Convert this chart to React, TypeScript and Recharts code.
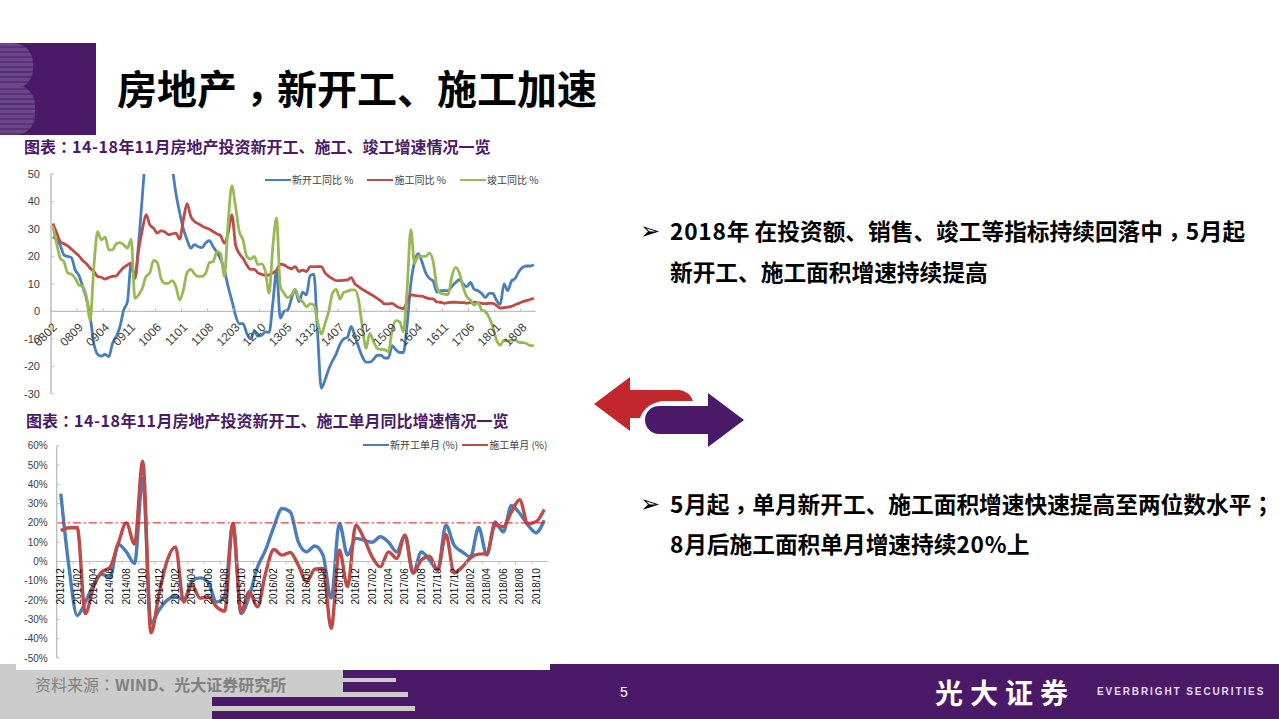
import { LineChart, Line, XAxis, YAxis, ReferenceLine, Legend } from 'recharts';

// 月度累计同比 (2008/02 - 2018/11)
const months = [
  '0802','0803','0804','0805','0806','0807','0808','0809','0810','0811','0812',
  '0901','0902','0903','0904','0905','0906','0907','0908','0909','0910','0911','0912',
  '1001','1002','1003','1004','1005','1006','1007','1008','1009','1010','1011','1012',
  '1101','1102','1103','1104','1105','1106','1107','1108','1109','1110','1111','1112',
  '1201','1202','1203','1204','1205','1206','1207','1208','1209','1210','1211','1212',
  '1301','1302','1303','1304','1305','1306','1307','1308','1309','1310','1311','1312',
  '1401','1402','1403','1404','1405','1406','1407','1408','1409','1410','1411','1412',
  '1501','1502','1503','1504','1505','1506','1507','1508','1509','1510','1511','1512',
  '1601','1602','1603','1604','1605','1606','1607','1608','1609','1610','1611','1612',
  '1701','1702','1703','1704','1705','1706','1707','1708','1709','1710','1711','1712',
  '1801','1802','1803','1804','1805','1806','1807','1808','1809','1810','1811',
];
const newStart = [
  27.2,26,24,20.5,20,19.5,15,13,9,4.7,-2,-11.7,-15.6,-16.3,-15.7,-16.5,-11.7,-9.2,-5.6,0.5,3.5,17.5,12,
  24.8,42,60,75,85,90,85,75,65,53,43,36,30,26,23,24.3,23.5,23.2,25,25.7,23.5,21.5,19,15,9,4,-1.5,-4.5,-4.5,-8,-10,-7.5,-9,-8.7,-7.5,-7.7,3,14.5,
  -2.5,0,0.5,4.7,8,3.5,7,6,13,13.5,-8,-28,-25,-21,-18,-15.5,-12,-10,-9.5,-5.5,-9,-13,-16.5,-18.5,-18.5,-17.5,-16,-16,-17,-17,-12.5,-14,-15,-15,-5,10,18,21,18,14,12,11,7,7.5,7.5,7.5,9,10.5,11.5,10,9,10.5,8,7.5,6.5,5,6.5,6.5,4,2.5,10,7.5,11,12,14.5,16,16.5,16.5,17,
];
const underCon = [
  32,28.7,25.4,24.6,23.8,22.6,21.4,20.2,18.5,17.3,15.7,14.5,12.7,12.4,11.7,12.3,12.7,12.9,14.5,16,16.9,17.5,12,
  22.4,29.7,35.2,31.5,30.3,28.5,29.3,29,27.9,28.2,28.5,26.3,33.3,39.2,34.5,32.7,31.9,31.1,30.4,29.9,29,28.2,27.5,24.8,28.5,35.2,24.2,21,19.3,16.9,15.3,15.3,14,13.5,13.1,13.3,13.9,15,
  17.2,16.9,16,15.5,16.3,14.5,15,14.5,16.3,16.2,16.3,16.3,14,12.7,11.9,11.2,11.2,11.3,11.4,12.3,10,9,8,7.2,6.4,5.6,4.7,3.8,2.7,2.7,2.9,2,1.3,1,3.5,6,5.8,5.6,5.5,5,4.6,4.5,3.4,3.3,2.9,3.2,3.3,3.3,3.2,3.2,3,3.2,3.3,3.2,2.9,2.8,2.9,2.9,2.1,1.2,1.3,1.5,1.8,2.4,2.9,3.5,3.9,4.3,4.7,
];
const finished = [
  31,24.8,19.3,18,13.9,13.5,12,9.6,9,5.4,-3.2,16.3,29,26,27,22.4,22.4,24.6,25,24.2,23,26.3,4.7,
  6,8.4,12.7,14,18.5,17.8,12,10.2,10.2,11.2,9,4.1,7.8,14.1,15.3,13.6,12.7,12.7,13.9,17.8,18.1,21.8,21,12.7,32,45.7,38.2,29,26,20,19,20,17,17.3,14.5,6.6,23.6,34,
  9,6.6,5,6,8,4.7,3.5,1.7,2.7,2.3,-3.8,-8.3,-4.4,0,6.6,8,4.5,6.9,7.3,7.8,7.8,4.1,-5.6,-13.5,-8,-11,-13.5,-13.9,-14,-14.7,-6.8,-3.4,-3.8,-7.4,7.8,29.7,17.5,20.2,20,20,21.2,18.1,9,6.6,6.3,6,12.7,16,14,9,5.4,4.1,2.3,3.2,0.5,-0.1,-2.2,-5.6,-10.5,-12.3,-10.5,-10.8,-10.5,-10.5,-11.3,-11.4,-11.7,-12.5,-12.4,
];
const yearTicks = [-30, -20, -10, 0, 10, 20, 30, 40, 50];

// 单月同比 (2013/12 - 2018/11)
const singleMonths = [
  '2013/12','2014/01','2014/02','2014/03','2014/04','2014/05','2014/06','2014/07','2014/08','2014/09','2014/10','2014/11','2014/12',
  '2015/01','2015/02','2015/03','2015/04','2015/05','2015/06','2015/07','2015/08','2015/09','2015/10','2015/11','2015/12',
  '2016/01','2016/02','2016/03','2016/04','2016/05','2016/06','2016/07','2016/08','2016/09','2016/10','2016/11','2016/12',
  '2017/01','2017/02','2017/03','2017/04','2017/05','2017/06','2017/07','2017/08','2017/09','2017/10','2017/11','2017/12',
  '2018/01','2018/02','2018/03','2018/04','2018/05','2018/06','2018/07','2018/08','2018/09','2018/10','2018/11',
];
const newStartSingle = [
  35.2,-3,-28,-21,-12,-6.5,-8.5,9,5,-1,43,-32,-25,-20,-18,-20,-10,-8.5,-11,-21,-18,19.7,-27,-18,-3,6,18,
  27.5,25.7,10,5,8,3.3,-19,19.7,3.3,12,11,10,12.8,10,5,13.6,-6,5,0.7,-4.5,18.8,8.5,5,2.4,17.6,3.3,20.5,15.4,29,25,19,14.9,21.4,
];
const underConSingle = [
  16,17.5,17.6,-27,-13,-5.4,-3,9.3,20,9,52,-37,-16.6,0.7,7.6,-21,-12.3,-19,-18.3,-23.5,-25.7,19.7,-26,-15.7,-23.5,-6,6.2,
  3.3,4.7,-2,-10.5,-4,-3.6,-34.7,5.9,-13,18.8,12,2.4,-2.8,5,1.6,13.6,-6,0.7,2.8,-4.5,14,-6,-2.8,1.9,3.8,4.1,18.8,18,25.7,32,19.7,20.6,27,
];
const monthTicks = [-50, -40, -30, -20, -10, 0, 10, 20, 30, 40, 50, 60];

const yearData = months.map((m, i) => ({ m, a: newStart[i], b: underCon[i], c: finished[i] }));
const monthData = singleMonths.map((m, i) => ({ m, a: newStartSingle[i], b: underConSingle[i] }));

const PURPLE = '#4a1a68';
const CJK = '"Noto Sans CJK SC", sans-serif';
const CJK_TC = '"Noto Sans CJK TC", sans-serif';
const LATIN = '"Liberation Sans", sans-serif';

const legendBox = (w: number, gap: number) => (props: any) => (
  <div style={{ display: 'flex', width: w, fontFamily: CJK, fontSize: 10, color: '#404040', alignItems: 'center', lineHeight: '12px', whiteSpace: 'nowrap' }}>
    {props.payload?.map((e: any) => (
      <span key={e.value} style={{ display: 'flex', alignItems: 'center', marginRight: gap }}>
        <span style={{ width: 26, height: 2.5, background: e.color, marginRight: 1 }} />
        {e.value}
      </span>
    ))}
  </div>
);

const YearTick = ({ x, y, payload }: any) => (
  <g transform={`translate(${x},${y - 82.4})`}>
    <line x1={-1.9} x2={-1.9} y1={-3} y2={0} stroke="#bfbfbf" />
    <text transform="translate(2,14) rotate(-45)" textAnchor="end" dominantBaseline="central" fontSize={12} fill="#404040" fontFamily={LATIN}>
      {payload.value}
    </text>
  </g>
);

const MonthTick = ({ x, y, payload }: any) => (
  <g transform={`translate(${x},${y - 96.7})`}>
    <line x1={-4.1} x2={-4.1} y1={0} y2={3} stroke="#bfbfbf" />
    <text transform="translate(0,7) rotate(-90)" textAnchor="end" dominantBaseline="central" fontSize={10} fill="#111" fontFamily={LATIN}>
      {payload.value}
    </text>
  </g>
);

const Arrows = () => (
  <svg width={160} height={80} style={{ position: 'absolute', left: 590, top: 372 }} viewBox="590 372 160 80">
    <path d="M594 404 L630 377 L630 390 L680 390 Q690 392 693 401 L662 401 Q645 404 640 418 L630 418 L630 431 Z" fill="#c1272d" />
    <path d="M659 406 L708 406 L708 393 L744 420 L708 447 L708 434 L659 434 A14 14 0 0 1 659 406 Z" fill={PURPLE} />
  </svg>
);

const Box = ({ l, t, w, h, c, r }: any) => (
  <div style={{ position: 'absolute', left: l, top: t, width: w, height: h, background: c, borderRadius: r }} />
);

// 标点居中，数字略宽
const tune = (s: string, digit: number) =>
  s.split(/([，：；]|[0-9-]+)/).map((p, i) => {
    if (p === '，') return <span key={i} style={{ fontFamily: CJK_TC, position: 'relative', top: '0.22em' }}>{p}</span>;
    if (/^[：；]$/.test(p)) return <span key={i} style={{ fontFamily: CJK_TC }}>{p}</span>;
    if (/^[0-9-]+$/.test(p)) return <span key={i} style={{ letterSpacing: digit }}>{p}</span>;
    return p;
  });

const Txt = ({ l, t, s, c = '#000', b = 700, f = CJK, ls = 0, children }: any) => (
  <div style={{ position: 'absolute', left: l, top: t, fontSize: s, color: c, fontWeight: b, fontFamily: f, letterSpacing: ls, whiteSpace: 'nowrap', lineHeight: 1 }}>
    {children}
  </div>
);

const stripes = 'repeating-linear-gradient(180deg,#6b4688 0 3px,#5a3079 3px 5px)';

export default function App() {
  return (
    <div style={{ position: 'absolute', left: 0, top: 0, width: 1279, height: 719, overflow: 'hidden', background: '#fff' }}>
      {/* 页眉色块 */}
      <Box l={0} t={43} w={96} h={92} c={PURPLE} />
      <Box l={0} t={43} w={33} h={46} c={stripes} r="0 20px 20px 0" />
      <Box l={0} t={85} w={35} h={50} c={stripes} r="0 20px 20px 0" />
      <Txt l={117} t={67} s={40}>{tune('房地产，新开工、施工加速', 0)}</Txt>

      {/* 页脚 */}
      <Box l={0} t={664} w={550} h={55} c="#cccccc" />
      <Box l={550} t={664} w={729} h={55} c={PURPLE} />
      <Box l={343} t={670} w={207} h={49} c={PURPLE} />
      <Box l={343} t={678} w={53} h={4} c="#cccccc" />
      <Box l={212} t={692} w={338} h={27} c={PURPLE} />
      <Box l={212} t={692} w={196} h={5} c="#cccccc" />
      <Box l={212} t={706} w={203} h={5} c="#cccccc" />
      <Box l={16} t={640} w={534} h={30} c="#fff" />
      <Txt l={35} t={676} s={16} c="#808080" b={400}>{tune('资料来源：', 0)}<b>WIND、光大证券研究所</b></Txt>
      <Txt l={620} t={685} s={14} c="#fff" b={400} f={LATIN}>5</Txt>
      <Txt l={935} t={678} s={28} c="#fff" b={700} f='"Noto Sans CJK SC", serif' ls={7}>光大证券</Txt>
      <Txt l={1097} t={687} s={10} c="#e6dcef" b={700} f={LATIN} ls={1.9}>EVERBRIGHT SECURITIES</Txt>

      <Txt l={24} t={138} s={16} c={PURPLE}>{tune('图表：14-18年11月房地产投资新开工、施工、竣工增速情况一览', 0.55)}</Txt>
      <div style={{ position: 'absolute', left: 0, top: 160 }}>
        <LineChart width={560} height={250} data={yearData} margin={{ top: 14, right: 24.3, bottom: 15.3, left: 0 }}>
          <XAxis dataKey="m" scale="band" height={1} interval={6} axisLine={false} tickLine={false} tickSize={0} tickMargin={0} tick={<YearTick />} />
          <YAxis width={51} domain={[-30, 50]} ticks={yearTicks} allowDataOverflow axisLine={{ stroke: '#bfbfbf', strokeWidth: 1.5 }} tickLine={{ stroke: '#bfbfbf' }} tickSize={-3} tickMargin={14} tick={{ fontSize: 11, fill: '#404040', fontFamily: LATIN }} />
          <ReferenceLine y={0} stroke="#bfbfbf" strokeWidth={1.2} />
          <Legend layout="horizontal" verticalAlign="middle" align="center" content={legendBox(290, 14)} wrapperStyle={{ left: 265, top: 14, width: 290, bottom: 'auto' }} />
          <Line name="新开工同比 %" dataKey="a" type="monotone" stroke="#4a7ebb" strokeWidth={2.8} dot={false} isAnimationActive={false} />
          <Line name="施工同比 %" dataKey="b" type="monotone" stroke="#be4b48" strokeWidth={2.8} dot={false} isAnimationActive={false} />
          <Line name="竣工同比 %" dataKey="c" type="monotone" stroke="#98b954" strokeWidth={2.8} dot={false} isAnimationActive={false} />
        </LineChart>
      </div>

      <Txt l={26} t={412} s={16} c={PURPLE}>{tune('图表：14-18年11月房地产投资新开工、施工单月同比增速情况一览', 0.55)}</Txt>
      <div style={{ position: 'absolute', left: 0, top: 430 }}>
        <LineChart width={560} height={240} data={monthData} margin={{ top: 15.7, right: 11.7, bottom: 11, left: 0 }}>
          <XAxis dataKey="m" scale="band" height={1} interval={1} axisLine={false} tickLine={false} tickSize={0} tickMargin={0} tick={<MonthTick />} />
          <YAxis width={56.7} domain={[-50, 60]} ticks={monthTicks} tickFormatter={(v: number) => `${v}%`} axisLine={{ stroke: '#bfbfbf', strokeWidth: 1.5 }} tickLine={{ stroke: '#bfbfbf' }} tickSize={-3} tickMargin={12} tick={{ fontSize: 10, fill: '#404040', fontFamily: LATIN }} />
          <ReferenceLine y={0} stroke="#bfbfbf" strokeWidth={1.2} />
          <Legend layout="horizontal" verticalAlign="middle" align="center" content={legendBox(200, 4)} wrapperStyle={{ left: 363, top: 9, width: 200, bottom: 'auto' }} />
          <Line name="新开工单月 (%)" dataKey="a" type="monotone" stroke="#4a7ebb" strokeWidth={3.4} dot={false} isAnimationActive={false} />
          <Line name="施工单月 (%)" dataKey="b" type="monotone" stroke="#be4b48" strokeWidth={3.4} dot={false} isAnimationActive={false} />
          <ReferenceLine y={20} stroke="#ff0000" strokeWidth={1} strokeDasharray="8 3 2 3" />
        </LineChart>
      </div>

      <Arrows />

      <Txt l={640} t={219} s={24} b={400} f='"DejaVu Sans", sans-serif'>➢</Txt>
      <Txt l={670} t={220} s={22.7}>{tune('2018年 在投资额、销售、竣工等指标持续回落中，5月起', 0.8)}</Txt>
      <Txt l={670} t={261} s={22.7}>新开工、施工面积增速持续提高</Txt>
      <Txt l={640} t={492} s={24} b={400} f='"DejaVu Sans", sans-serif'>➢</Txt>
      <Txt l={670} t={493} s={22.7}>{tune('5月起，单月新开工、施工面积增速快速提高至两位数水平；', 0.8)}</Txt>
      <Txt l={670} t={533} s={22.7}>{tune('8月后施工面积单月增速持续20%上', 0.8)}</Txt>
    </div>
  );
}
